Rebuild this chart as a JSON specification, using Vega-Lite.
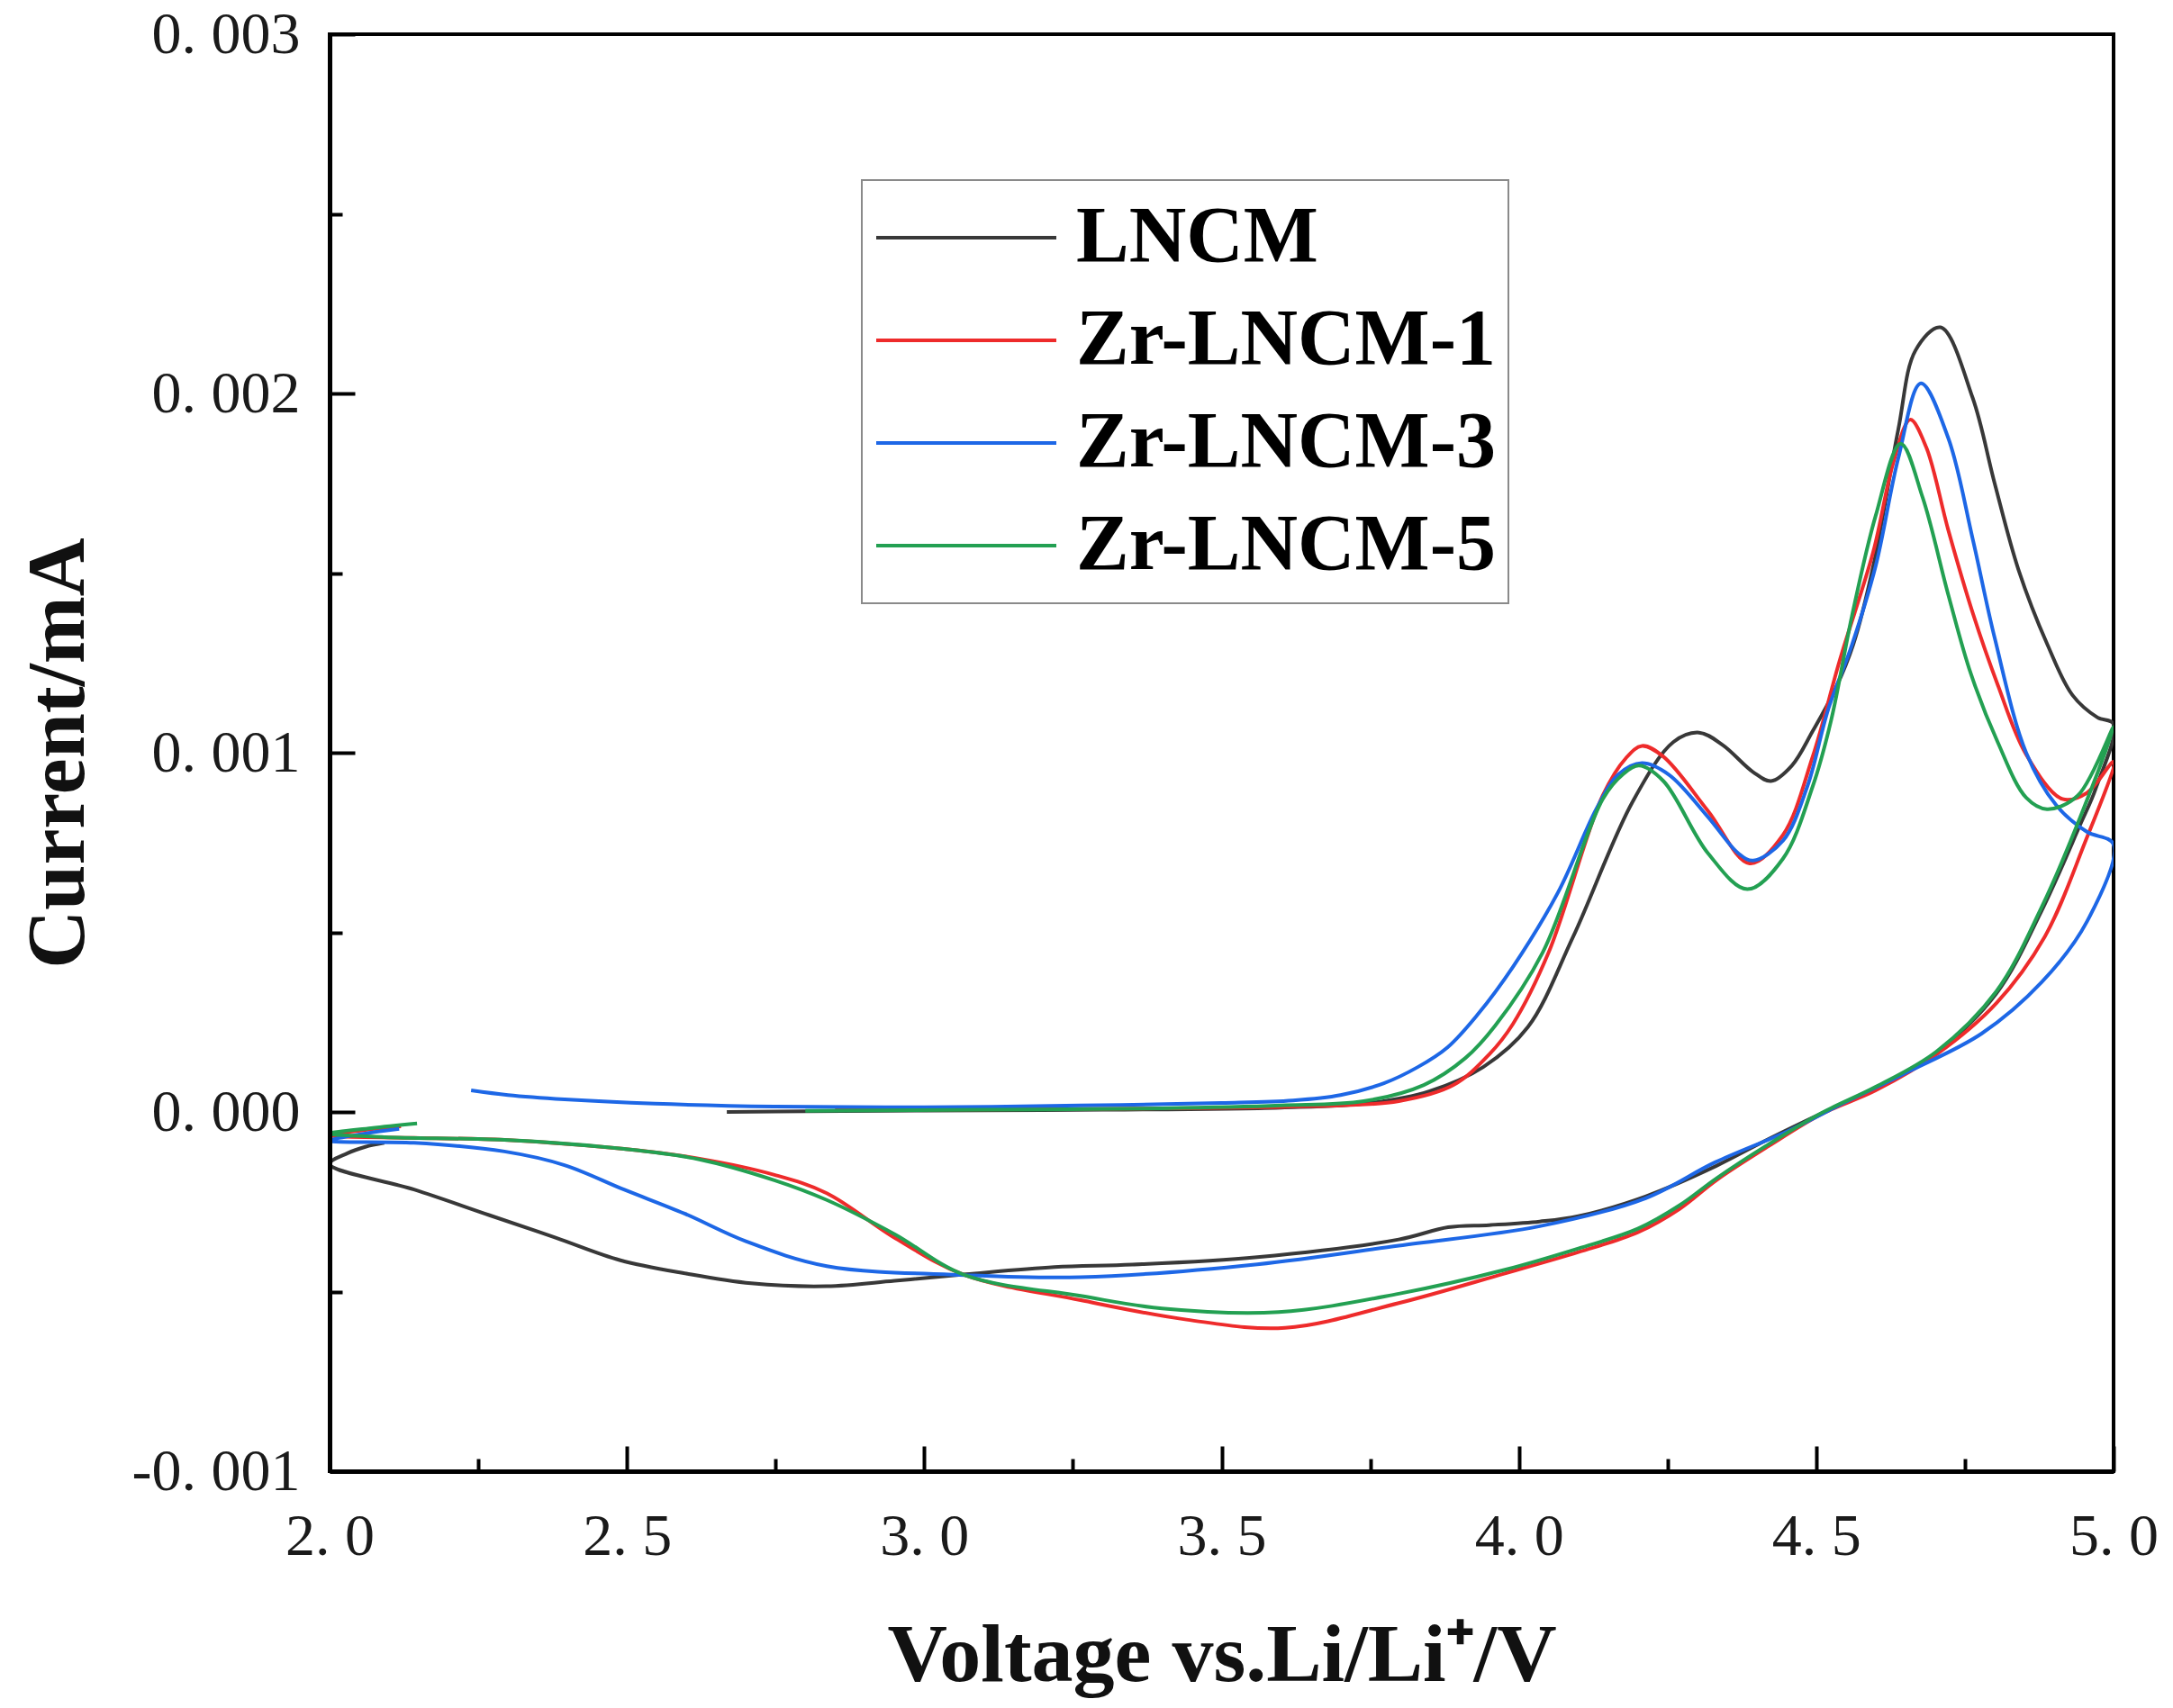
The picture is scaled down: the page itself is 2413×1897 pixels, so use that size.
{
  "$schema": "https://vega.github.io/schema/vega-lite/v6.json",
  "description": "Cyclic voltammetry curves of LNCM and Zr-doped LNCM",
  "width": 1981,
  "height": 1596,
  "autosize": {"type": "none"},
  "padding": {"left": 366, "top": 38, "right": 66, "bottom": 263},
  "background": "white",
  "config": {
    "view": {"stroke": "#000000", "strokeWidth": 4},
    "font": "Liberation Serif"
  },
  "data": {
    "values": [
      {"s": "LNCM", "i": 0, "v": 2.668, "c": 0.0},
      {"s": "LNCM", "i": 1, "v": 2.8, "c": 0.000002},
      {"s": "LNCM", "i": 2, "v": 3.0, "c": 0.000004},
      {"s": "LNCM", "i": 3, "v": 3.3, "c": 0.000006},
      {"s": "LNCM", "i": 4, "v": 3.6, "c": 0.000012},
      {"s": "LNCM", "i": 5, "v": 3.75, "c": 0.000025},
      {"s": "LNCM", "i": 6, "v": 3.85, "c": 0.000058},
      {"s": "LNCM", "i": 7, "v": 3.94, "c": 0.000125},
      {"s": "LNCM", "i": 8, "v": 4.015, "c": 0.000236},
      {"s": "LNCM", "i": 9, "v": 4.091, "c": 0.000487},
      {"s": "LNCM", "i": 10, "v": 4.191, "c": 0.000863},
      {"s": "LNCM", "i": 11, "v": 4.26, "c": 0.00103},
      {"s": "LNCM", "i": 12, "v": 4.303, "c": 0.001056},
      {"s": "LNCM", "i": 13, "v": 4.343, "c": 0.001021},
      {"s": "LNCM", "i": 14, "v": 4.394, "c": 0.000946},
      {"s": "LNCM", "i": 15, "v": 4.424, "c": 0.000921},
      {"s": "LNCM", "i": 16, "v": 4.459, "c": 0.000964},
      {"s": "LNCM", "i": 17, "v": 4.494, "c": 0.00106},
      {"s": "LNCM", "i": 18, "v": 4.53, "c": 0.00117},
      {"s": "LNCM", "i": 19, "v": 4.562, "c": 0.0013},
      {"s": "LNCM", "i": 20, "v": 4.596, "c": 0.00152},
      {"s": "LNCM", "i": 21, "v": 4.638, "c": 0.0019},
      {"s": "LNCM", "i": 22, "v": 4.667, "c": 0.00212},
      {"s": "LNCM", "i": 23, "v": 4.709, "c": 0.002184},
      {"s": "LNCM", "i": 24, "v": 4.763, "c": 0.001988},
      {"s": "LNCM", "i": 25, "v": 4.8, "c": 0.00175},
      {"s": "LNCM", "i": 26, "v": 4.84, "c": 0.00151},
      {"s": "LNCM", "i": 27, "v": 4.889, "c": 0.0013},
      {"s": "LNCM", "i": 28, "v": 4.931, "c": 0.00116},
      {"s": "LNCM", "i": 29, "v": 4.973, "c": 0.001098},
      {"s": "LNCM", "i": 30, "v": 5.0, "c": 0.00108},
      {"s": "LNCM", "i": 31, "v": 4.97, "c": 0.0009},
      {"s": "LNCM", "i": 32, "v": 4.944, "c": 0.0008},
      {"s": "LNCM", "i": 33, "v": 4.879, "c": 0.00056},
      {"s": "LNCM", "i": 34, "v": 4.803, "c": 0.00033},
      {"s": "LNCM", "i": 35, "v": 4.702, "c": 0.000165},
      {"s": "LNCM", "i": 36, "v": 4.6, "c": 0.000065},
      {"s": "LNCM", "i": 37, "v": 4.51, "c": -0.000003},
      {"s": "LNCM", "i": 38, "v": 4.42, "c": -0.000075},
      {"s": "LNCM", "i": 39, "v": 4.332, "c": -0.00015},
      {"s": "LNCM", "i": 40, "v": 4.213, "c": -0.000235},
      {"s": "LNCM", "i": 41, "v": 4.1, "c": -0.00029},
      {"s": "LNCM", "i": 42, "v": 4.035, "c": -0.000305},
      {"s": "LNCM", "i": 43, "v": 3.95, "c": -0.000315},
      {"s": "LNCM", "i": 44, "v": 3.881, "c": -0.000321},
      {"s": "LNCM", "i": 45, "v": 3.798, "c": -0.000355},
      {"s": "LNCM", "i": 46, "v": 3.56, "c": -0.000404},
      {"s": "LNCM", "i": 47, "v": 3.35, "c": -0.000425},
      {"s": "LNCM", "i": 48, "v": 3.219, "c": -0.000432},
      {"s": "LNCM", "i": 49, "v": 3.07, "c": -0.000452},
      {"s": "LNCM", "i": 50, "v": 2.95, "c": -0.00047},
      {"s": "LNCM", "i": 51, "v": 2.836, "c": -0.000485},
      {"s": "LNCM", "i": 52, "v": 2.709, "c": -0.000477},
      {"s": "LNCM", "i": 53, "v": 2.6, "c": -0.00045},
      {"s": "LNCM", "i": 54, "v": 2.489, "c": -0.000413},
      {"s": "LNCM", "i": 55, "v": 2.38, "c": -0.00035},
      {"s": "LNCM", "i": 56, "v": 2.268, "c": -0.000287},
      {"s": "LNCM", "i": 57, "v": 2.142, "c": -0.000216},
      {"s": "LNCM", "i": 58, "v": 2.0, "c": -0.000145},
      {"s": "LNCM", "i": 59, "v": 2.03, "c": -0.000115},
      {"s": "LNCM", "i": 60, "v": 2.06, "c": -0.000097},
      {"s": "LNCM", "i": 61, "v": 2.092, "c": -0.000086},

      {"s": "Zr-LNCM-1", "i": 0, "v": 2.85, "c": 0.000005},
      {"s": "Zr-LNCM-1", "i": 1, "v": 3.1, "c": 0.000007},
      {"s": "Zr-LNCM-1", "i": 2, "v": 3.4, "c": 0.00001},
      {"s": "Zr-LNCM-1", "i": 3, "v": 3.65, "c": 0.000016},
      {"s": "Zr-LNCM-1", "i": 4, "v": 3.798, "c": 0.00003},
      {"s": "Zr-LNCM-1", "i": 5, "v": 3.89, "c": 0.000075},
      {"s": "Zr-LNCM-1", "i": 6, "v": 3.95, "c": 0.00016},
      {"s": "Zr-LNCM-1", "i": 7, "v": 3.99, "c": 0.000245},
      {"s": "Zr-LNCM-1", "i": 8, "v": 4.05, "c": 0.000444},
      {"s": "Zr-LNCM-1", "i": 9, "v": 4.141, "c": 0.000881},
      {"s": "Zr-LNCM-1", "i": 10, "v": 4.18, "c": 0.000985},
      {"s": "Zr-LNCM-1", "i": 11, "v": 4.207, "c": 0.001019},
      {"s": "Zr-LNCM-1", "i": 12, "v": 4.243, "c": 0.000989},
      {"s": "Zr-LNCM-1", "i": 13, "v": 4.318, "c": 0.000838},
      {"s": "Zr-LNCM-1", "i": 14, "v": 4.388, "c": 0.000692},
      {"s": "Zr-LNCM-1", "i": 15, "v": 4.444, "c": 0.000771},
      {"s": "Zr-LNCM-1", "i": 16, "v": 4.494, "c": 0.000989},
      {"s": "Zr-LNCM-1", "i": 17, "v": 4.54, "c": 0.00126},
      {"s": "Zr-LNCM-1", "i": 18, "v": 4.596, "c": 0.00156},
      {"s": "Zr-LNCM-1", "i": 19, "v": 4.63, "c": 0.00181},
      {"s": "Zr-LNCM-1", "i": 20, "v": 4.658, "c": 0.001927},
      {"s": "Zr-LNCM-1", "i": 21, "v": 4.685, "c": 0.00185},
      {"s": "Zr-LNCM-1", "i": 22, "v": 4.722, "c": 0.00162},
      {"s": "Zr-LNCM-1", "i": 23, "v": 4.763, "c": 0.00139},
      {"s": "Zr-LNCM-1", "i": 24, "v": 4.805, "c": 0.00119},
      {"s": "Zr-LNCM-1", "i": 25, "v": 4.853, "c": 0.000995},
      {"s": "Zr-LNCM-1", "i": 26, "v": 4.914, "c": 0.000871},
      {"s": "Zr-LNCM-1", "i": 27, "v": 4.955, "c": 0.000888},
      {"s": "Zr-LNCM-1", "i": 28, "v": 5.0, "c": 0.000975},
      {"s": "Zr-LNCM-1", "i": 29, "v": 4.949, "c": 0.000738},
      {"s": "Zr-LNCM-1", "i": 30, "v": 4.884, "c": 0.000487},
      {"s": "Zr-LNCM-1", "i": 31, "v": 4.803, "c": 0.000303},
      {"s": "Zr-LNCM-1", "i": 32, "v": 4.702, "c": 0.00016},
      {"s": "Zr-LNCM-1", "i": 33, "v": 4.6, "c": 0.00006},
      {"s": "Zr-LNCM-1", "i": 34, "v": 4.51, "c": -0.000005},
      {"s": "Zr-LNCM-1", "i": 35, "v": 4.42, "c": -0.000095},
      {"s": "Zr-LNCM-1", "i": 36, "v": 4.332, "c": -0.00019},
      {"s": "Zr-LNCM-1", "i": 37, "v": 4.27, "c": -0.00027},
      {"s": "Zr-LNCM-1", "i": 38, "v": 4.2, "c": -0.000335},
      {"s": "Zr-LNCM-1", "i": 39, "v": 4.1, "c": -0.00039},
      {"s": "Zr-LNCM-1", "i": 40, "v": 3.975, "c": -0.00045},
      {"s": "Zr-LNCM-1", "i": 41, "v": 3.798, "c": -0.000532},
      {"s": "Zr-LNCM-1", "i": 42, "v": 3.607, "c": -0.000601},
      {"s": "Zr-LNCM-1", "i": 43, "v": 3.441, "c": -0.000578},
      {"s": "Zr-LNCM-1", "i": 44, "v": 3.263, "c": -0.000524},
      {"s": "Zr-LNCM-1", "i": 45, "v": 3.068, "c": -0.000454},
      {"s": "Zr-LNCM-1", "i": 46, "v": 2.952, "c": -0.000352},
      {"s": "Zr-LNCM-1", "i": 47, "v": 2.836, "c": -0.000226},
      {"s": "Zr-LNCM-1", "i": 48, "v": 2.748, "c": -0.000175},
      {"s": "Zr-LNCM-1", "i": 49, "v": 2.622, "c": -0.00013},
      {"s": "Zr-LNCM-1", "i": 50, "v": 2.495, "c": -0.000103},
      {"s": "Zr-LNCM-1", "i": 51, "v": 2.294, "c": -0.000078},
      {"s": "Zr-LNCM-1", "i": 52, "v": 2.142, "c": -0.000072},
      {"s": "Zr-LNCM-1", "i": 53, "v": 2.0, "c": -0.000065},
      {"s": "Zr-LNCM-1", "i": 54, "v": 2.06, "c": -0.00005},
      {"s": "Zr-LNCM-1", "i": 55, "v": 2.12, "c": -0.00004},

      {"s": "Zr-LNCM-3", "i": 0, "v": 2.238, "c": 0.00006},
      {"s": "Zr-LNCM-3", "i": 1, "v": 2.3, "c": 0.000047},
      {"s": "Zr-LNCM-3", "i": 2, "v": 2.395, "c": 0.000035},
      {"s": "Zr-LNCM-3", "i": 3, "v": 2.547, "c": 0.000023},
      {"s": "Zr-LNCM-3", "i": 4, "v": 2.748, "c": 0.000015},
      {"s": "Zr-LNCM-3", "i": 5, "v": 3.0, "c": 0.000013},
      {"s": "Zr-LNCM-3", "i": 6, "v": 3.263, "c": 0.000018},
      {"s": "Zr-LNCM-3", "i": 7, "v": 3.5, "c": 0.000025},
      {"s": "Zr-LNCM-3", "i": 8, "v": 3.62, "c": 0.000032},
      {"s": "Zr-LNCM-3", "i": 9, "v": 3.7, "c": 0.000047},
      {"s": "Zr-LNCM-3", "i": 10, "v": 3.773, "c": 0.00008},
      {"s": "Zr-LNCM-3", "i": 11, "v": 3.83, "c": 0.000125},
      {"s": "Zr-LNCM-3", "i": 12, "v": 3.88, "c": 0.00018},
      {"s": "Zr-LNCM-3", "i": 13, "v": 3.93, "c": 0.00027},
      {"s": "Zr-LNCM-3", "i": 14, "v": 3.99, "c": 0.000404},
      {"s": "Zr-LNCM-3", "i": 15, "v": 4.066, "c": 0.000612},
      {"s": "Zr-LNCM-3", "i": 16, "v": 4.131, "c": 0.000846},
      {"s": "Zr-LNCM-3", "i": 17, "v": 4.167, "c": 0.000939},
      {"s": "Zr-LNCM-3", "i": 18, "v": 4.207, "c": 0.000971},
      {"s": "Zr-LNCM-3", "i": 19, "v": 4.252, "c": 0.000939},
      {"s": "Zr-LNCM-3", "i": 20, "v": 4.318, "c": 0.000821},
      {"s": "Zr-LNCM-3", "i": 21, "v": 4.369, "c": 0.00072},
      {"s": "Zr-LNCM-3", "i": 22, "v": 4.394, "c": 0.0007},
      {"s": "Zr-LNCM-3", "i": 23, "v": 4.444, "c": 0.000755},
      {"s": "Zr-LNCM-3", "i": 24, "v": 4.485, "c": 0.000906},
      {"s": "Zr-LNCM-3", "i": 25, "v": 4.52, "c": 0.00112},
      {"s": "Zr-LNCM-3", "i": 26, "v": 4.56, "c": 0.0013},
      {"s": "Zr-LNCM-3", "i": 27, "v": 4.6, "c": 0.00152},
      {"s": "Zr-LNCM-3", "i": 28, "v": 4.638, "c": 0.00182},
      {"s": "Zr-LNCM-3", "i": 29, "v": 4.676, "c": 0.002028},
      {"s": "Zr-LNCM-3", "i": 30, "v": 4.722, "c": 0.001876},
      {"s": "Zr-LNCM-3", "i": 31, "v": 4.763, "c": 0.001596},
      {"s": "Zr-LNCM-3", "i": 32, "v": 4.8, "c": 0.00132},
      {"s": "Zr-LNCM-3", "i": 33, "v": 4.853, "c": 0.001},
      {"s": "Zr-LNCM-3", "i": 34, "v": 4.903, "c": 0.000855},
      {"s": "Zr-LNCM-3", "i": 35, "v": 4.955, "c": 0.00078},
      {"s": "Zr-LNCM-3", "i": 36, "v": 5.0, "c": 0.000745},
      {"s": "Zr-LNCM-3", "i": 37, "v": 4.955, "c": 0.000529},
      {"s": "Zr-LNCM-3", "i": 38, "v": 4.879, "c": 0.000361},
      {"s": "Zr-LNCM-3", "i": 39, "v": 4.778, "c": 0.000218},
      {"s": "Zr-LNCM-3", "i": 40, "v": 4.652, "c": 0.00011},
      {"s": "Zr-LNCM-3", "i": 41, "v": 4.55, "c": 0.000028},
      {"s": "Zr-LNCM-3", "i": 42, "v": 4.45, "c": -0.000055},
      {"s": "Zr-LNCM-3", "i": 43, "v": 4.33, "c": -0.00014},
      {"s": "Zr-LNCM-3", "i": 44, "v": 4.213, "c": -0.00024},
      {"s": "Zr-LNCM-3", "i": 45, "v": 4.035, "c": -0.000318},
      {"s": "Zr-LNCM-3", "i": 46, "v": 3.798, "c": -0.000372},
      {"s": "Zr-LNCM-3", "i": 47, "v": 3.56, "c": -0.000424},
      {"s": "Zr-LNCM-3", "i": 48, "v": 3.263, "c": -0.00046},
      {"s": "Zr-LNCM-3", "i": 49, "v": 3.068, "c": -0.000454},
      {"s": "Zr-LNCM-3", "i": 50, "v": 2.836, "c": -0.000429},
      {"s": "Zr-LNCM-3", "i": 51, "v": 2.7, "c": -0.00036},
      {"s": "Zr-LNCM-3", "i": 52, "v": 2.597, "c": -0.000283},
      {"s": "Zr-LNCM-3", "i": 53, "v": 2.495, "c": -0.000216},
      {"s": "Zr-LNCM-3", "i": 54, "v": 2.395, "c": -0.000148},
      {"s": "Zr-LNCM-3", "i": 55, "v": 2.294, "c": -0.00011},
      {"s": "Zr-LNCM-3", "i": 56, "v": 2.142, "c": -0.000086},
      {"s": "Zr-LNCM-3", "i": 57, "v": 2.0, "c": -0.00008},
      {"s": "Zr-LNCM-3", "i": 58, "v": 2.06, "c": -0.00006},
      {"s": "Zr-LNCM-3", "i": 59, "v": 2.117, "c": -0.000047},

      {"s": "Zr-LNCM-5", "i": 0, "v": 2.8, "c": 0.000003},
      {"s": "Zr-LNCM-5", "i": 1, "v": 3.1, "c": 0.000006},
      {"s": "Zr-LNCM-5", "i": 2, "v": 3.4, "c": 0.00001},
      {"s": "Zr-LNCM-5", "i": 3, "v": 3.6, "c": 0.000018},
      {"s": "Zr-LNCM-5", "i": 4, "v": 3.739, "c": 0.00003},
      {"s": "Zr-LNCM-5", "i": 5, "v": 3.84, "c": 0.000075},
      {"s": "Zr-LNCM-5", "i": 6, "v": 3.91, "c": 0.00015},
      {"s": "Zr-LNCM-5", "i": 7, "v": 3.96, "c": 0.00024},
      {"s": "Zr-LNCM-5", "i": 8, "v": 4.04, "c": 0.000444},
      {"s": "Zr-LNCM-5", "i": 9, "v": 4.141, "c": 0.000871},
      {"s": "Zr-LNCM-5", "i": 10, "v": 4.175, "c": 0.00094},
      {"s": "Zr-LNCM-5", "i": 11, "v": 4.202, "c": 0.000964},
      {"s": "Zr-LNCM-5", "i": 12, "v": 4.243, "c": 0.000921},
      {"s": "Zr-LNCM-5", "i": 13, "v": 4.318, "c": 0.00072},
      {"s": "Zr-LNCM-5", "i": 14, "v": 4.384, "c": 0.00062},
      {"s": "Zr-LNCM-5", "i": 15, "v": 4.444, "c": 0.000705},
      {"s": "Zr-LNCM-5", "i": 16, "v": 4.494, "c": 0.000906},
      {"s": "Zr-LNCM-5", "i": 17, "v": 4.525, "c": 0.00109},
      {"s": "Zr-LNCM-5", "i": 18, "v": 4.56, "c": 0.00138},
      {"s": "Zr-LNCM-5", "i": 19, "v": 4.6, "c": 0.00166},
      {"s": "Zr-LNCM-5", "i": 20, "v": 4.642, "c": 0.00186},
      {"s": "Zr-LNCM-5", "i": 21, "v": 4.679, "c": 0.00171},
      {"s": "Zr-LNCM-5", "i": 22, "v": 4.722, "c": 0.00144},
      {"s": "Zr-LNCM-5", "i": 23, "v": 4.76, "c": 0.00122},
      {"s": "Zr-LNCM-5", "i": 24, "v": 4.805, "c": 0.00103},
      {"s": "Zr-LNCM-5", "i": 25, "v": 4.853, "c": 0.000875},
      {"s": "Zr-LNCM-5", "i": 26, "v": 4.888, "c": 0.000843},
      {"s": "Zr-LNCM-5", "i": 27, "v": 4.94, "c": 0.000881},
      {"s": "Zr-LNCM-5", "i": 28, "v": 5.0, "c": 0.001072},
      {"s": "Zr-LNCM-5", "i": 29, "v": 4.944, "c": 0.000821},
      {"s": "Zr-LNCM-5", "i": 30, "v": 4.879, "c": 0.00057},
      {"s": "Zr-LNCM-5", "i": 31, "v": 4.803, "c": 0.000336},
      {"s": "Zr-LNCM-5", "i": 32, "v": 4.702, "c": 0.000168},
      {"s": "Zr-LNCM-5", "i": 33, "v": 4.6, "c": 0.00007},
      {"s": "Zr-LNCM-5", "i": 34, "v": 4.51, "c": -0.000002},
      {"s": "Zr-LNCM-5", "i": 35, "v": 4.42, "c": -0.00009},
      {"s": "Zr-LNCM-5", "i": 36, "v": 4.332, "c": -0.000185},
      {"s": "Zr-LNCM-5", "i": 37, "v": 4.27, "c": -0.00026},
      {"s": "Zr-LNCM-5", "i": 38, "v": 4.2, "c": -0.000325},
      {"s": "Zr-LNCM-5", "i": 39, "v": 4.1, "c": -0.00038},
      {"s": "Zr-LNCM-5", "i": 40, "v": 3.975, "c": -0.00044},
      {"s": "Zr-LNCM-5", "i": 41, "v": 3.798, "c": -0.000506},
      {"s": "Zr-LNCM-5", "i": 42, "v": 3.596, "c": -0.000557},
      {"s": "Zr-LNCM-5", "i": 43, "v": 3.4, "c": -0.000547},
      {"s": "Zr-LNCM-5", "i": 44, "v": 3.263, "c": -0.000512},
      {"s": "Zr-LNCM-5", "i": 45, "v": 3.068, "c": -0.000454},
      {"s": "Zr-LNCM-5", "i": 46, "v": 2.95, "c": -0.00034},
      {"s": "Zr-LNCM-5", "i": 47, "v": 2.836, "c": -0.000245},
      {"s": "Zr-LNCM-5", "i": 48, "v": 2.748, "c": -0.00019},
      {"s": "Zr-LNCM-5", "i": 49, "v": 2.622, "c": -0.000132},
      {"s": "Zr-LNCM-5", "i": 50, "v": 2.495, "c": -0.000103},
      {"s": "Zr-LNCM-5", "i": 51, "v": 2.294, "c": -0.000078},
      {"s": "Zr-LNCM-5", "i": 52, "v": 2.092, "c": -0.00007},
      {"s": "Zr-LNCM-5", "i": 53, "v": 2.0, "c": -0.00006},
      {"s": "Zr-LNCM-5", "i": 54, "v": 2.07, "c": -0.000045},
      {"s": "Zr-LNCM-5", "i": 55, "v": 2.147, "c": -0.000032}
    ]
  },
  "mark": {"type": "line", "strokeWidth": 4, "interpolate": "catmull-rom", "clip": true},
  "encoding": {
    "x": {
      "field": "v",
      "type": "quantitative",
      "scale": {"domain": [2, 5], "nice": false, "zero": false},
      "axis": {
        "orient": "bottom",
        "zindex": 1,
        "values": [2, 2.25, 2.5, 2.75, 3, 3.25, 3.5, 3.75, 4, 4.25, 4.5, 4.75, 5],
        "labelExpr": "(datum.value * 2) % 1 === 0 ? replace(format(datum.value, '.1f'), '.', '. ') : ''",
        "labelFont": "Liberation Serif",
        "labelFontSize": 66,
        "labelColor": "#1a1a1a",
        "labelPadding": 68,
        "labelFlush": false,
        "labelOverlap": false,
        "labelLimit": 0,
        "ticks": true,
        "tickSize": {"condition": {"test": "(datum.value * 2) % 1 === 0", "value": -28}, "value": -14},
        "tickWidth": 4,
        "tickColor": "#000000",
        "grid": false,
        "domainColor": "#000000",
        "domainWidth": 5,
        "title": "Voltage vs.Li/Li⁺/V",
        "titleFont": "Liberation Serif",
        "titleFontWeight": "bold",
        "titleFontSize": 92,
        "titleColor": "#111111",
        "titlePadding": 40
      }
    },
    "y": {
      "field": "c",
      "type": "quantitative",
      "scale": {"domain": [-0.001, 0.003], "nice": false, "zero": false},
      "axis": {
        "orient": "left",
        "zindex": 1,
        "values": [-0.001, -0.0005, 0, 0.0005, 0.001, 0.0015, 0.002, 0.0025, 0.003],
        "labelExpr": "round(datum.value * 10000) % 10 === 0 ? replace(replace(format(datum.value, '.3f'), '.', '. '), '\u2212', '-') : ''",
        "labelFont": "Liberation Serif",
        "labelFontSize": 66,
        "labelColor": "#1a1a1a",
        "labelPadding": 61,
        "labelFlush": false,
        "labelOverlap": false,
        "labelLimit": 0,
        "ticks": true,
        "tickSize": {"condition": {"test": "round(datum.value * 10000) % 10 === 0", "value": -28}, "value": -14},
        "tickWidth": 4,
        "tickColor": "#000000",
        "grid": false,
        "domainColor": "#000000",
        "domainWidth": 5,
        "title": "Current/mA",
        "titleFont": "Liberation Serif",
        "titleFontWeight": "bold",
        "titleFontSize": 90,
        "titleColor": "#111111",
        "titlePadding": 55
      }
    },
    "color": {
      "field": "s",
      "type": "nominal",
      "scale": {
        "domain": ["LNCM", "Zr-LNCM-1", "Zr-LNCM-3", "Zr-LNCM-5"],
        "range": ["#383838", "#ee2b2b", "#1d67e6", "#23a052"]
      },
      "legend": {
        "orient": "none",
        "legendX": 591,
        "legendY": 162,
        "title": null,
        "symbolType": "stroke",
        "symbolSize": 40000,
        "symbolStrokeWidth": 4,
        "labelFont": "Liberation Serif",
        "labelFontWeight": "bold",
        "labelFontSize": 88,
        "labelColor": "#000000",
        "labelLimit": 0,
        "labelOffset": 20,
        "clipHeight": 100,
        "rowPadding": 14,
        "padding": 14,
        "strokeColor": "#8a8a8a",
        "fillColor": "#ffffff",
        "encode": {
          "legend": {
            "update": {
              "strokeWidth": {"value": 2}
            }
          }
        }
      }
    },
    "order": {"field": "i", "type": "quantitative"}
  }
}
